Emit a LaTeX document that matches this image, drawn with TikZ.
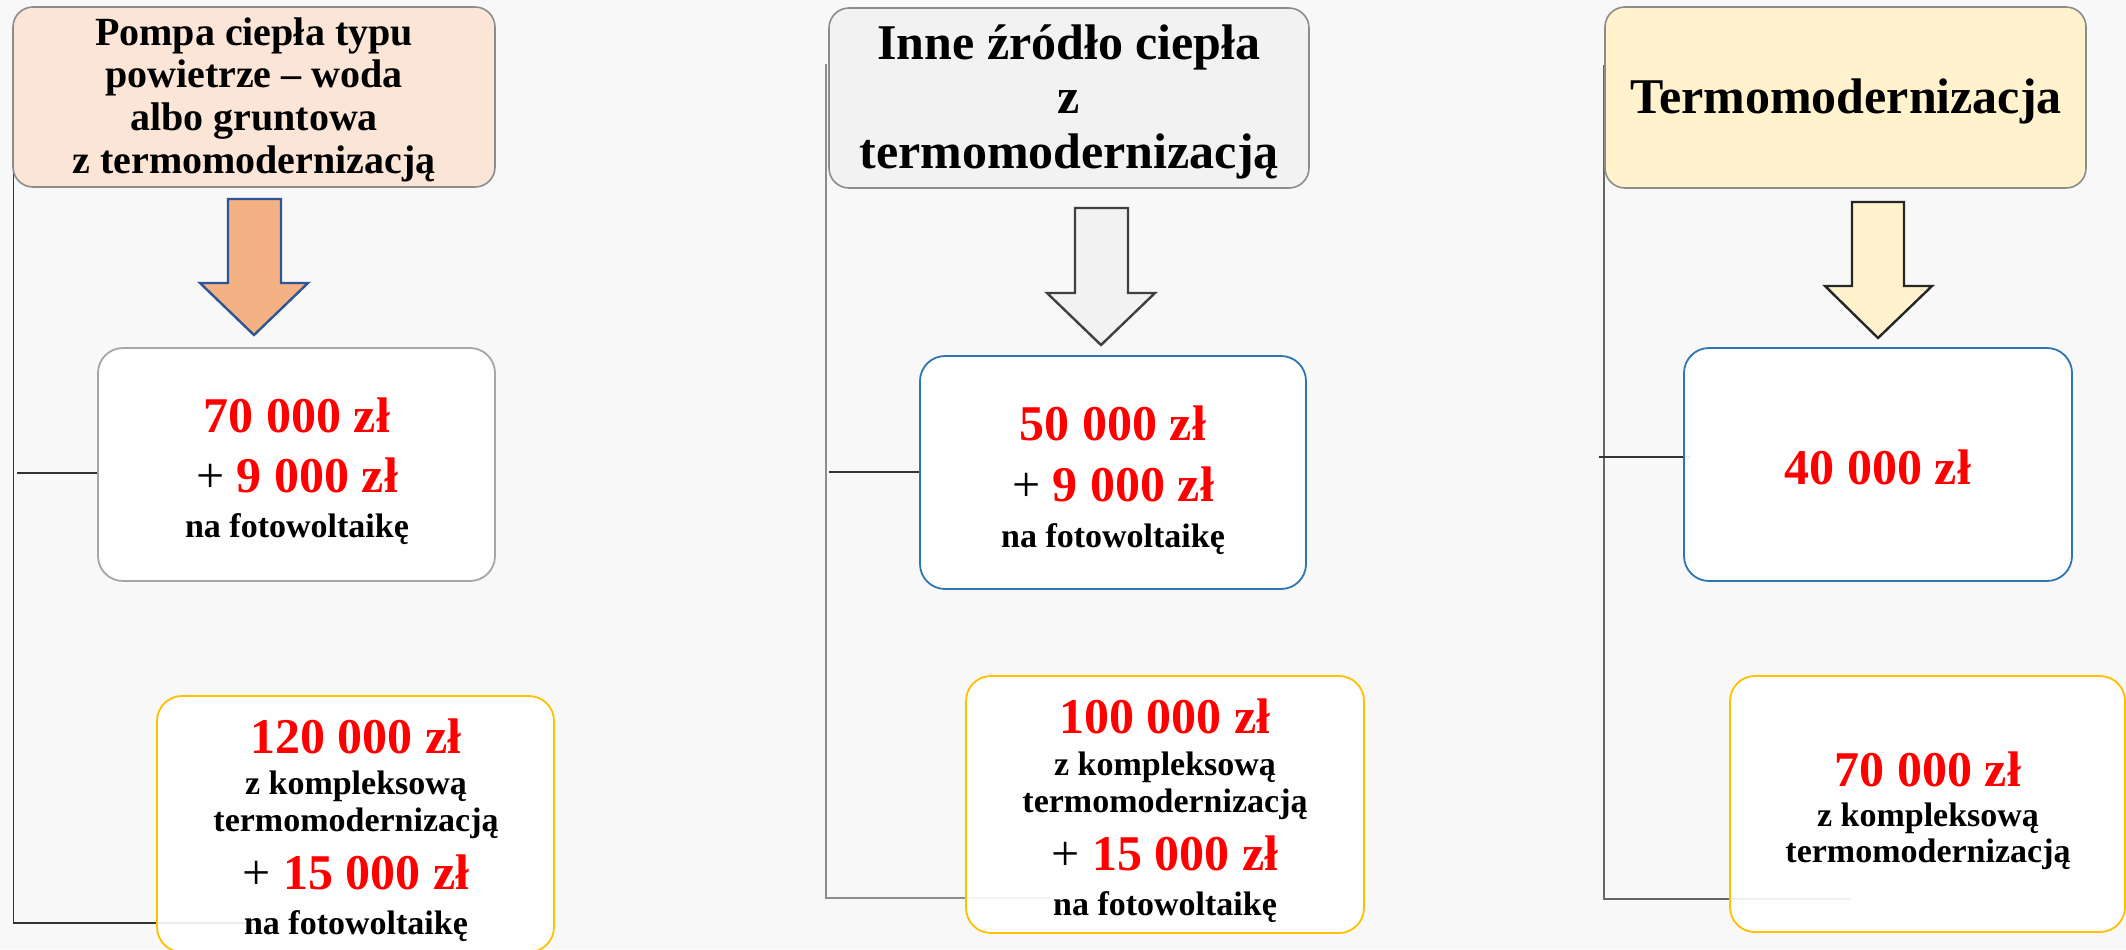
\documentclass[tikz,border=0pt]{standalone}
\usepackage{fontspec}
\setmainfont{Liberation Serif}
\definecolor{bgc}{HTML}{F8F8F8}
\definecolor{peach}{HTML}{FBE5D6}
\definecolor{lgray}{HTML}{F2F2F2}
\definecolor{lyell}{HTML}{FFF2CC}
\definecolor{orarrow}{HTML}{F4B183}
\definecolor{darkblue}{HTML}{2F5597}
\definecolor{midblue}{HTML}{2E75B6}
\definecolor{gold}{HTML}{FFC000}
\definecolor{hdrline}{HTML}{8C8C8C}
\definecolor{boxgray}{HTML}{A6A6A6}
\definecolor{redc}{HTML}{FF0000}
\begin{document}
\begin{tikzpicture}[x=0.5pt,y=-0.5pt,
  hdr/.style={draw=hdrline,line width=0.8pt,rounded corners=10pt,inner sep=0pt},
  res/.style={line width=0.9pt,rounded corners=12.5pt,inner sep=0pt,fill=white,fill opacity=0.9},
  big/.style={anchor=base,inner sep=0pt,font=\fontsize{25}{28}\selectfont\bfseries,text=redc},
  small/.style={anchor=base,inner sep=0pt,font=\fontsize{17}{19}\selectfont\bfseries},
  htxt/.style={anchor=base,inner sep=0pt,font=\fontsize{20}{22}\selectfont\bfseries},
  htxtb/.style={anchor=base,inner sep=0pt,font=\fontsize{25}{28}\selectfont\bfseries},
  brk/.style={line width=0.75pt},
  blockarrow/.style={line width=1.2pt,line join=miter}]
\useasboundingbox (0,0) rectangle (2126,949);
\fill[bgc] (0,0) rectangle (2126,949);

% bracket coordinates
\coordinate (v1t) at (13.5,100);
\coordinate (v1b) at (13.5,923);
\coordinate (e1b) at (257,923);
\coordinate (m1s) at (17,473);
\coordinate (v2t) at (826,64);
\coordinate (v2b) at (826,898);
\coordinate (e2b) at (1051,898);
\coordinate (m2s) at (829,472);
\coordinate (v3t) at (1604,65);
\coordinate (v3b) at (1604,899);
\coordinate (e3b) at (1850,899);
\coordinate (m3s) at (1599,457);

% bracket lines
\draw[brk,draw=black!80] (v1t) -- (v1b) -- (e1b);
\draw[brk,draw=black!80] (m1s) -- (98,473);
\draw[brk,line width=1pt,draw=black!45] (v2t) -- (v2b) -- (e2b);
\draw[brk,draw=black!80] (m2s) -- (920,472);
\draw[brk,draw=black!60] (v3t) -- (v3b) -- (e3b);
\draw[brk,draw=black!80] (m3s) -- (1690,457);

% headers
\node[hdr,fill=peach,minimum width=241pt,minimum height=90pt] (h1) at (254,97) {};
\node[hdr,fill=lgray,minimum width=240pt,minimum height=90pt] (h2) at (1069,98) {};
\node[hdr,fill=lyell,minimum width=240.5pt,minimum height=90.5pt] (h3) at (1845.5,97.5) {};

\node[htxt] (h1l1) at (254,45) {Pompa ciepła typu};
\node[htxt] (h1l2) at (254,87) {powietrze – woda};
\node[htxt] (h1l3) at (254,130) {albo gruntowa};
\node[htxt] (h1l4) at (254,173) {z termomodernizacją};

\node[htxtb] (h2l1) at (1069,59) {Inne źródło ciepła};
\node[htxtb] (h2l2) at (1069,113) {z};
\node[htxtb] (h2l3) at (1069,168) {termomodernizacją};

\node[htxtb] (h3l1) at (1846,113) {Termomodernizacja};

% block arrows
\draw[blockarrow,fill=orarrow,draw=darkblue] (228,199) -- (281,199) -- (281,283) -- (308,283) -- (254,335) -- (200,283) -- (228,283) -- cycle;
\draw[blockarrow,fill=lgray,draw=black!75] (1075,208) -- (1128,208) -- (1128,293) -- (1155,293) -- (1101,345) -- (1047,293) -- (1075,293) -- cycle;
\draw[blockarrow,fill=lyell,draw=black!85] (1852,202) -- (1904,202) -- (1904,286) -- (1932,286) -- (1878,338) -- (1825,286) -- (1852,286) -- cycle;

% result boxes
\node[res,draw=boxgray,minimum width=198.5pt,minimum height=116.5pt] (b1a) at (296.5,464.5) {};
\node[res,draw=midblue,minimum width=193pt,minimum height=116.5pt] (b2a) at (1113,472.5) {};
\node[res,draw=midblue,minimum width=194pt,minimum height=116.5pt] (b3a) at (1878,464.5) {};
\node[res,draw=gold,minimum width=198.5pt,minimum height=128pt] (b1b) at (355.5,824) {};
\node[res,draw=gold,minimum width=199pt,minimum height=128.5pt] (b2b) at (1165,804.5) {};
\node[res,draw=gold,minimum width=197.5pt,minimum height=128pt] (b3b) at (1927.5,804) {};

% texts box 1a
\node[big] (t1a1) at (297,432) {70 000 zł};
\node[big] (t1a2) at (297,492) {\textcolor{black}{\mdseries +} 9 000 zł};
\node[small] (t1a3) at (297,537) {na fotowoltaikę};

% texts box 2a
\node[big] (t2a1) at (1113,440) {50 000 zł};
\node[big] (t2a2) at (1113,501) {\textcolor{black}{\mdseries +} 9 000 zł};
\node[small] (t2a3) at (1113,547) {na fotowoltaikę};

% texts box 3a
\node[big] (t3a1) at (1878,484) {40 000 zł};

% texts box 1b
\node[big] (t1b1) at (356,753) {120 000 zł};
\node[small] (t1b2) at (356,794) {z kompleksową};
\node[small] (t1b3) at (356,831) {termomodernizacją};
\node[big] (t1b4) at (356,889) {\textcolor{black}{\mdseries +} 15 000 zł};
\node[small] (t1b5) at (356,934) {na fotowoltaikę};

% texts box 2b
\node[big] (t2b1) at (1165,733) {100 000 zł};
\node[small] (t2b2) at (1165,775) {z kompleksową};
\node[small] (t2b3) at (1165,812) {termomodernizacją};
\node[big] (t2b4) at (1165,870) {\textcolor{black}{\mdseries +} 15 000 zł};
\node[small] (t2b5) at (1165,915) {na fotowoltaikę};

% texts box 3b
\node[big] (t3b1) at (1928,786) {70 000 zł};
\node[small] (t3b2) at (1928,826) {z kompleksową};
\node[small] (t3b3) at (1928,862) {termomodernizacją};
\end{tikzpicture}
\end{document}
